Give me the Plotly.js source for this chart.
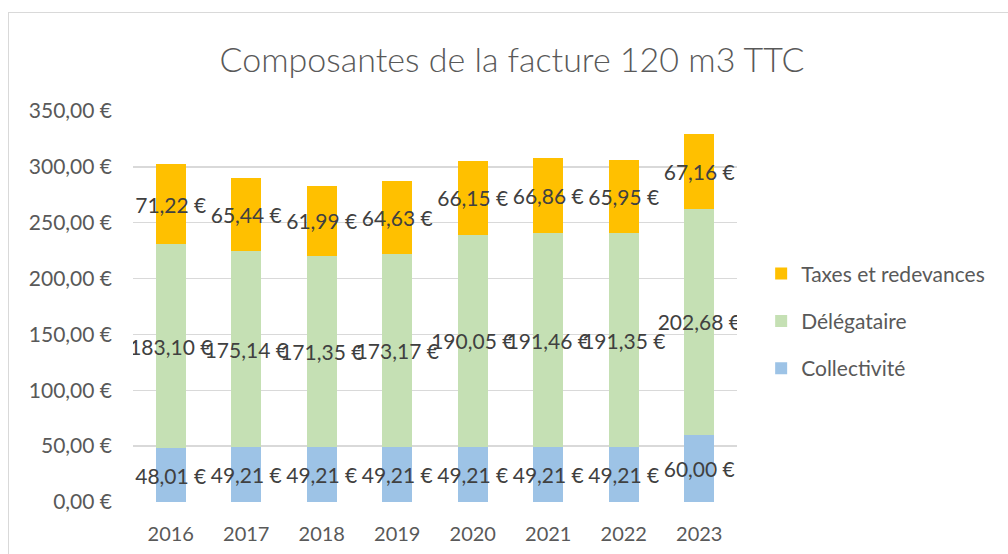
<!DOCTYPE html>
<html>
<head>
<meta charset="utf-8">
<script src="https://cdn.plot.ly/plotly-3.0.1.min.js"></script>
<style>
html,body{margin:0;padding:0;background:#fff;}
#chart{width:1008px;height:554px;}
#frame{position:absolute;left:8px;top:12px;width:1100px;height:600px;border:1.5px solid #d9d9d9;pointer-events:none;}
</style>
</head>
<body>
<div id="chart"></div>
<div id="frame"></div>
<script>
const years = ['2016','2017','2018','2019','2020','2021','2022','2023'];
const collectivite = [48.01, 49.21, 49.21, 49.21, 49.21, 49.21, 49.21, 60.00];
const delegataire = [183.10, 175.14, 171.35, 173.17, 190.05, 191.46, 191.35, 202.68];
const taxes = [71.22, 65.44, 61.99, 64.63, 66.15, 66.86, 65.95, 67.16];
const yTicks = [0, 50, 100, 150, 200, 250, 300, 350];

const FONT = 'Lato, "Open Sans", sans-serif';
const fmt = v => v.toFixed(2).replace('.', ',') + ' €';

function barTrace(name, vals, color, group, rank) {
  return {
    type: 'bar', name: name, x: years, y: vals,
    marker: {color: color},
    text: vals.map(fmt),
    textposition: 'inside',
    insidetextanchor: 'middle',
    textangle: 0,
    constraintext: 'none',
    insidetextfont: {family: FONT, size: 21, color: '#404040'},
    legendgroup: group,
    legendrank: rank,
    hoverinfo: 'x+y+name'
  };
}

const data = [
  barTrace('Collectivité', collectivite, '#9DC3E6', 'c', 3),
  barTrace('Délégataire', delegataire, '#C5E0B4', 'd', 2),
  barTrace('Taxes et redevances', taxes, '#FFC000', 't', 1)
];

const layout = {
  width: 1008, height: 554,
  margin: {l: 133, r: 271, t: 111, b: 52},
  paper_bgcolor: '#fff', plot_bgcolor: '#fff',
  barmode: 'stack',
  bargap: 0.6,
  font: {family: FONT, color: '#595959', size: 20},
  title: {
    text: 'Composantes de la facture 120 m3 TTC',
    font: {family: FONT, size: 34, color: '#595959', weight: 300},
    x: 0.508, xref: 'container', xanchor: 'center',
    y: 1 - 60/554, yref: 'container', yanchor: 'middle'
  },
  xaxis: {
    type: 'category',
    showgrid: false, zeroline: false, showline: false, ticks: '',
    tickfont: {family: FONT, size: 20, color: '#595959'},
    ticklabelstandoff: 18
  },
  yaxis: {
    range: [0, 350],
    tickmode: 'array',
    tickvals: yTicks,
    ticktext: yTicks.map(fmt),
    showgrid: true, gridcolor: '#D9D9D9', gridwidth: 1.5,
    zeroline: false, showline: false, ticks: '',
    tickfont: {family: FONT, size: 21, color: '#595959'},
    ticklabelstandoff: 20
  },
  legend: {
    x: 1.04, xanchor: 'left', y: 0.463, yanchor: 'middle',
    traceorder: 'grouped',
    tracegroupgap: 17,
    font: {family: FONT, size: 21, color: '#595959'},
    bgcolor: 'rgba(0,0,0,0)'
  },
  showlegend: true
};

Plotly.newPlot('chart', data, layout, {displayModeBar: false, staticPlot: true});
</script>
</body>
</html>
